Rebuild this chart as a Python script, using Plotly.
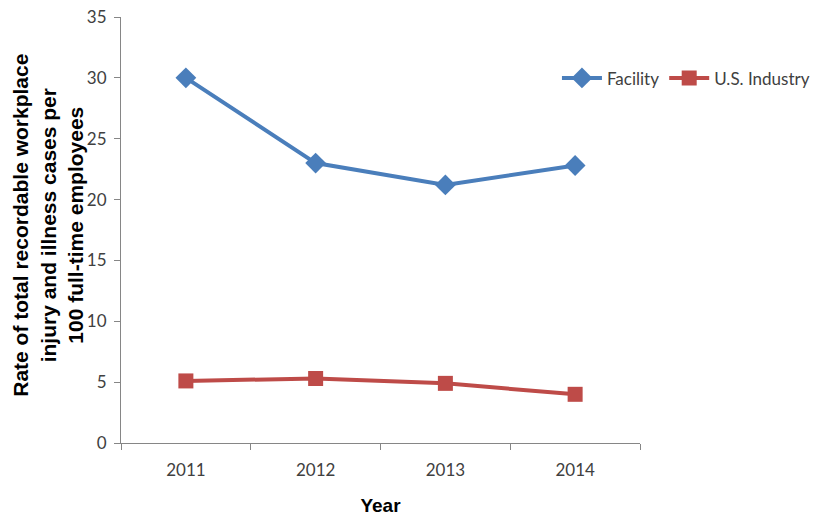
import plotly.graph_objects as go

years = ["2011", "2012", "2013", "2014"]
facility = [30.0, 23.0, 21.2, 22.8]
us_industry = [5.1, 5.3, 4.9, 4.0]
y_ticks = [0, 5, 10, 15, 20, 25, 30, 35]

blue = "#4A7EBB"
red = "#BE4B48"
tick_font = dict(family="Lato, 'Open Sans', sans-serif", size=17, color="#404040")

fig = go.Figure()
fig.add_trace(go.Scatter(x=years, y=facility, name="Facility", mode="lines+markers",
                         line=dict(color=blue, width=4),
                         marker=dict(symbol="diamond", size=16, color=blue)))
fig.add_trace(go.Scatter(x=years, y=us_industry, name="U.S. Industry", mode="lines+markers",
                         line=dict(color=red, width=4),
                         marker=dict(symbol="square", size=15, color=red)))

fig.update_layout(
    width=819, height=516,
    margin=dict(l=121, r=179, t=17, b=73, autoexpand=False),
    paper_bgcolor="white", plot_bgcolor="white",
    showlegend=True,
    legend=dict(orientation="h", x=0.84, y=0.856, xanchor="left", yanchor="middle",
                font=tick_font, itemwidth=40, bgcolor="rgba(0,0,0,0)",
                traceorder="normal"),
    annotations=[dict(
        text="<b>Rate of total recordable workplace<br>injury and illness cases per<br>100 full-time employees</b>",
        xref="paper", yref="paper", x=0, y=0.51, xshift=-73, xanchor="center", yanchor="middle",
        textangle=-90, showarrow=False,
        font=dict(family="Liberation Sans, Arial, sans-serif", size=21, color="black"))],
)
fig.update_xaxes(type="category", range=[-0.5, 3.5], tickson="boundaries",
                 ticks="outside", ticklen=6, tickcolor="#868686",
                 showline=True, linecolor="#868686", linewidth=1,
                 showgrid=False, tickfont=tick_font, ticklabelstandoff=12,
                 title=dict(text="<b>Year</b>", standoff=20,
                            font=dict(family="Liberation Sans, Arial, sans-serif", size=19, color="black")))
fig.update_yaxes(range=[0, 35], tickvals=y_ticks, ticks="outside", ticklen=6,
                 tickcolor="#868686", showline=True, linecolor="#868686", linewidth=1,
                 showgrid=False, zeroline=False, tickfont=tick_font, ticklabelstandoff=4)

fig.write_html("out.html")
